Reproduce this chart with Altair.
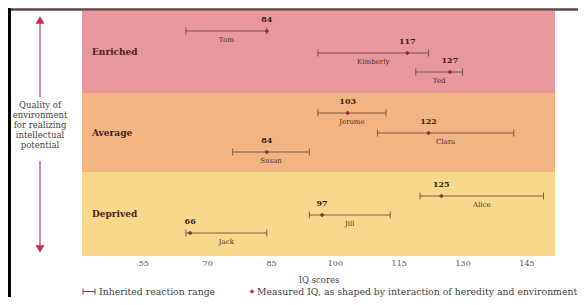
import altair as alt
import pandas as pd

# ---- data ----
people = ["Tom", "Kimberly", "Ted", "Jerome", "Clara", "Susan", "Alice", "Jill", "Jack"]
measured = [84, 117, 127, 103, 122, 84, 125, 97, 66]
range_low = [65, 96, 119, 96, 110, 76, 120, 94, 65]
range_high = [84, 122, 130, 112, 142, 94, 149, 113, 84]
row_pos = [1.0, 2.1, 3.05, 5.1, 6.1, 7.05, 9.25, 10.2, 11.1]

band_names = ["Enriched", "Average", "Deprived"]
band_top = [0, 4.1, 8.05]
band_bottom = [4.1, 8.05, 12.25]
band_colors = ["#E9979F", "#F1B482", "#F7D88C"]

tick_values = [55, 70, 85, 100, 115, 130, 145]
side_text = "Quality of\nenvironment\nfor realizing\nintellectual\npotential"

W, H = 473, 245
FONT = "DejaVu Serif"

df = pd.DataFrame(dict(name=people, measured=measured, low=range_low,
                       high=range_high, row=row_pos))
df["mid"] = [(a + b) / 2 for a, b in zip(range_low, range_high)]
bands = pd.DataFrame(dict(band=band_names, top=band_top, bottom=band_bottom,
                          mid=[(a + b) / 2 for a, b in zip(band_top, band_bottom)],
                          color=band_colors))
one = alt.Data(values=[{}])

xscale = alt.Scale(domain=[40.6, 151.7], nice=False, zero=False)
yscale = alt.Scale(domain=[0, 12.25], reverse=True, nice=False, zero=False)
xaxis = alt.Axis(values=tick_values, title="IQ scores", domain=False, ticks=False,
                 grid=False, labelFont=FONT, labelFontSize=8, labelColor="#555555",
                 labelPadding=3, titleFont=FONT, titleFontSize=8.5,
                 titleFontWeight="normal", titleColor="#444444", titlePadding=8)

bg = alt.Chart(bands).mark_rect().encode(
    x=alt.value(0), x2=alt.value(W),
    y=alt.Y("top:Q", scale=yscale, axis=None), y2="bottom:Q",
    color=alt.Color("color:N", scale=None))

band_lab = alt.Chart(bands).mark_text(align="left", font=FONT, fontWeight="bold",
                                       fontSize=9, color="#4a2318").encode(
    x=alt.value(10), y=alt.Y("mid:Q", scale=yscale, axis=None), text="band:N")

rng = alt.Chart(df).mark_rule(color="#6b4a3a", strokeWidth=1, opacity=0.85).encode(
    x=alt.X("low:Q", scale=xscale, axis=xaxis), x2="high:Q",
    y=alt.Y("row:Q", scale=yscale, axis=None))

cap_lo = alt.Chart(df).mark_tick(orient="vertical", size=7, thickness=1,
                                  color="#6b4a3a", opacity=0.85).encode(
    x=alt.X("low:Q", scale=xscale, axis=xaxis),
    y=alt.Y("row:Q", scale=yscale, axis=None))
cap_hi = alt.Chart(df).mark_tick(orient="vertical", size=7, thickness=1,
                                  color="#6b4a3a", opacity=0.85).encode(
    x=alt.X("high:Q", scale=xscale, axis=xaxis),
    y=alt.Y("row:Q", scale=yscale, axis=None))

pts = alt.Chart(df).mark_point(shape="diamond", filled=True, size=22, opacity=1,
                               color="#8a3040").encode(
    x=alt.X("measured:Q", scale=xscale, axis=xaxis),
    y=alt.Y("row:Q", scale=yscale, axis=None))

val_lab = alt.Chart(df).mark_text(dy=-11, font=FONT, fontWeight="bold", fontSize=8,
                                  color="#3b2417").encode(
    x=alt.X("measured:Q", scale=xscale, axis=xaxis),
    y=alt.Y("row:Q", scale=yscale, axis=None), text="measured:Q")

name_lab = alt.Chart(df).mark_text(dy=9, font=FONT, fontSize=7,
                                   color="#4a3020").encode(
    x=alt.X("mid:Q", scale=xscale, axis=xaxis),
    y=alt.Y("row:Q", scale=yscale, axis=None), text="name:N")

# ---- decorations outside the plot area ----
arrow_col = "#C62E52"
shaft_top = alt.Chart(one).mark_rule(color="#d0607a", strokeWidth=1.5).encode(
    x=alt.value(-42), y=alt.value(10), y2=alt.value(86))
shaft_bot = alt.Chart(one).mark_rule(color="#d0607a", strokeWidth=1.5).encode(
    x=alt.value(-42), y=alt.value(150), y2=alt.value(236))
head_up = alt.Chart(one).mark_point(shape="triangle-up", filled=True, size=80,
                                    opacity=1, color=arrow_col).encode(
    x=alt.value(-42), y=alt.value(9))
head_dn = alt.Chart(one).mark_point(shape="triangle-down", filled=True, size=80,
                                    opacity=1, color=arrow_col).encode(
    x=alt.value(-42), y=alt.value(238))
side = alt.Chart(one).mark_text(font=FONT, fontSize=8.5, lineHeight=10,
                                lineBreak="\n", color="#444444", baseline="top").encode(
    x=alt.value(-42), y=alt.value(90), text=alt.value(side_text))

top_line = alt.Chart(one).mark_rule(color="#5e4646", strokeWidth=2.5).encode(
    x=alt.value(-74), x2=alt.value(W + 23), y=alt.value(-1.5))
left_line = alt.Chart(one).mark_rule(color="#000000", strokeWidth=3).encode(
    x=alt.value(-72.5), y=alt.value(-3), y2=alt.value(H + 41))

leg_y = 280.5
leg_rule = alt.Chart(one).mark_rule(color="#6b4a3a", strokeWidth=1).encode(
    x=alt.value(1), x2=alt.value(13), y=alt.value(leg_y))
leg_cap1 = alt.Chart(one).mark_rule(color="#6b4a3a", strokeWidth=1).encode(
    x=alt.value(1), y=alt.value(leg_y - 3), y2=alt.value(leg_y + 3))
leg_cap2 = alt.Chart(one).mark_rule(color="#6b4a3a", strokeWidth=1).encode(
    x=alt.value(13), y=alt.value(leg_y - 3), y2=alt.value(leg_y + 3))
leg_t1 = alt.Chart(one).mark_text(align="left", font=FONT, fontSize=9.3,
                                  color="#444444").encode(
    x=alt.value(17), y=alt.value(leg_y), text=alt.value("Inherited reaction range"))
leg_dia = alt.Chart(one).mark_point(shape="diamond", filled=True, size=22, opacity=1,
                                    color=arrow_col).encode(
    x=alt.value(170), y=alt.value(leg_y))
leg_t2 = alt.Chart(one).mark_text(align="left", font=FONT, fontSize=9.3,
                                  color="#444444").encode(
    x=alt.value(175), y=alt.value(leg_y),
    text=alt.value("Measured IQ, as shaped by interaction of heredity and environment"))

chart = alt.layer(
    bg, band_lab, rng, cap_lo, cap_hi, pts, val_lab, name_lab,
    shaft_top, shaft_bot, head_up, head_dn, side, top_line, left_line,
    leg_rule, leg_cap1, leg_cap2, leg_t1, leg_dia, leg_t2
).properties(
    width=W, height=H, autosize="none",
    padding={"left": 74, "top": 3, "right": 23, "bottom": 41},
    background="white"
).configure_view(stroke=None)

chart.save("out.html", embed_options={"renderer": "svg", "actions": False})
